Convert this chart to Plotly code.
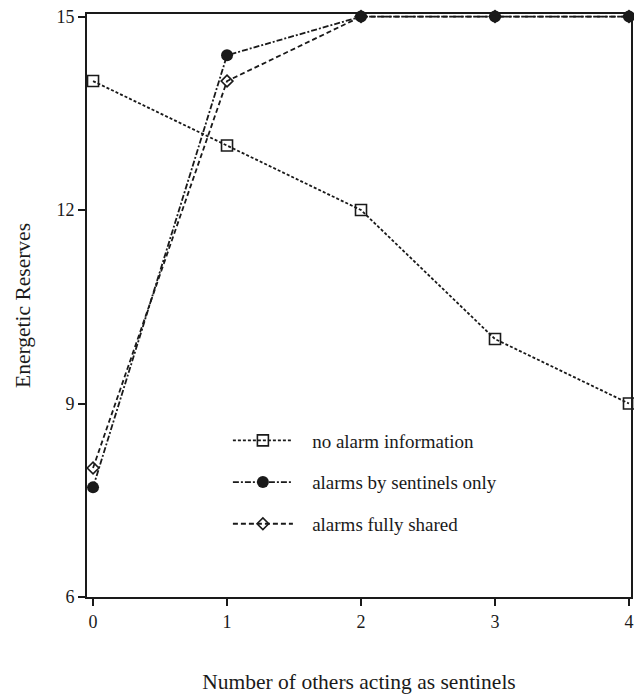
import plotly.graph_objects as go

# Number of other group members acting as sentinels
sentinels = [0, 1, 2, 3, 4]

# Energetic reserves under the three information regimes
no_alarm = [14, 13, 12, 10, 9]
alarms_sentinels_only = [7.7, 14.4, 15, 15, 15]
alarms_fully_shared = [8.0, 14.0, 15, 15, 15]

series_names = [
    "no alarm information",
    "alarms by sentinels only",
    "alarms fully shared",
]

y_ticks = [6, 9, 12, 15]
x_ticks = [0, 1, 2, 3, 4]

FONT = "Liberation Serif, Times New Roman, serif"
INK = "#1a1a1a"
PAD = "\u00a0\u00a0\u00a0"  # gap between legend symbol and its label

fig = go.Figure()

fig.add_trace(go.Scatter(
    x=sentinels, y=no_alarm, name=PAD + series_names[0], mode="lines+markers",
    line=dict(color=INK, width=1.8, dash="3px,2px"),
    marker=dict(symbol="square-open", size=11, color=INK, line=dict(width=1.6)),
    cliponaxis=False, legendgroup="a",
))
fig.add_trace(go.Scatter(
    x=sentinels, y=alarms_sentinels_only, name=PAD + series_names[1], mode="lines+markers",
    line=dict(color=INK, width=1.8, dash="6px,2px,2px,2px"),
    marker=dict(symbol="circle", size=12, color=INK),
    cliponaxis=False, legendgroup="b",
))
fig.add_trace(go.Scatter(
    x=sentinels, y=alarms_fully_shared, name=PAD + series_names[2], mode="lines+markers",
    line=dict(color=INK, width=1.8, dash="5px,3px"),
    marker=dict(symbol="diamond-open", size=9, color=INK, line=dict(width=1.6)),
    cliponaxis=False, legendgroup="c",
))

fig.update_layout(
    width=634, height=698,
    margin=dict(l=87, r=1, t=14, b=101),
    paper_bgcolor="white", plot_bgcolor="white",
    font=dict(family=FONT, size=18, color=INK),
    showlegend=True,
    legend=dict(
        x=0.259, y=0.301, xanchor="left", yanchor="top",
        bgcolor="rgba(0,0,0,0)", font=dict(size=19, family=FONT),
        itemwidth=60, traceorder="grouped", tracegroupgap=14,
    ),
    xaxis=dict(
        range=[-0.045, 4.015], tickvals=x_ticks, ticks="outside", ticklen=7,
        tickwidth=1.5, tickcolor=INK, showgrid=False, zeroline=False,
        showline=True, linecolor=INK, linewidth=2, mirror=True,
        tickfont=dict(size=18, family=FONT),
        title=dict(text="Number of others acting as sentinels",
                   font=dict(size=21.5, family=FONT), standoff=43),
    ),
    yaxis=dict(
        range=[6, 15.04], tickvals=y_ticks, ticks="outside", ticklen=7,
        tickwidth=1.5, tickcolor=INK, showgrid=False, zeroline=False,
        showline=True, linecolor=INK, linewidth=2, mirror=True,
        tickfont=dict(size=18, family=FONT),
        title=dict(text="Energetic Reserves",
                   font=dict(size=21.5, family=FONT), standoff=20),
    ),
)

fig.write_html("out.html")
